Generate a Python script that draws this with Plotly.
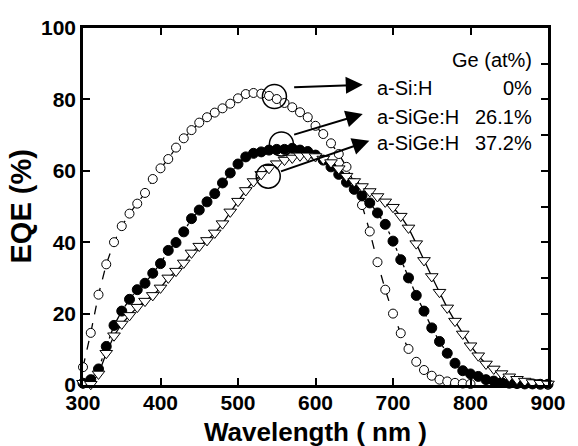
import plotly.graph_objects as go

# ---------------- data ----------------
wl_si = list(range(300, 801, 10))
eqe_si = [5, 14.6, 25.3, 33.8, 40, 44.5, 48, 50.8, 53.8, 57.7,
          60.7, 63.3, 66.5, 69.1, 71.4, 73.5, 75, 76.3, 77.5, 78.8,
          80.3, 81.5, 81.8, 81.6, 81, 80.1, 79, 77.8, 76.4, 75,
          72.6, 70.3, 67.7, 64.7, 61.1, 56.5, 50.4, 43, 34.4, 26.7,
          20, 14.5, 10.1, 6.5, 4.2, 2.6, 1.5, 1.0, 0.6, 0.4, 0.3]

wl_ge26 = list(range(300, 901, 10))
eqe_ge26 = [0.5, 1.5, 4.5, 10.8, 16.7, 20.7, 24, 26.7, 28.5, 31.3,
            34, 37.7, 39.9, 42.9, 46.6, 49, 51.3, 53.6, 56.6, 59.4,
            61.9, 63.9, 64.9, 65.3, 65.8, 66, 66, 66.3, 65.8, 65.4,
            64.4, 63, 61.1, 59, 56.8, 54.8, 53, 51, 48.2, 45,
            40.3, 35.1, 30, 25.1, 20.7, 16, 12.2, 8.9, 6.1, 4,
            3.1, 2.4, 1.5, 1.1, 0.7, 0.5, 0.4, 0.3, 0.3, 0.2, 0.2]

wl_ge37 = list(range(300, 901, 10))
eqe_ge37 = [0.5, 0.2, 3.1, 8.9, 13.8, 17.1, 19.5, 21.8, 23.5, 25.1,
            27.2, 30, 31.9, 34.2, 37, 38.9, 40.5, 42.6, 45.2, 48.5,
            51.5, 54.5, 57, 59, 60.7, 62, 63, 63.6, 64.2, 64.2,
            64, 63.3, 62.3, 60.6, 58.5, 57, 55.6, 54.2, 52.8, 51.3,
            49.8, 47.3, 44, 39.6, 34.9, 30.4, 26, 21.6, 17.9, 14.3,
            11, 8.2, 5.9, 4.5, 3.2, 2.3, 1.6, 1.1, 0.7, 0.5, 0.3]

# highlighted points (big circles) and arrow tails / heads
hl_wl = [547, 556, 539]
hl_eqe = [80.8, 67.5, 58.5]
arrow_tail_wl = [570.5, 570.5, 553.5]
arrow_tail_eqe = [83.4, 70.0, 59.7]
arrow_head_wl = [661, 661, 669.5]
arrow_head_eqe = [84.1, 75.9, 68.4]

labels = ["a-Si:H", "a-SiGe:H", "a-SiGe:H"]
ge_pct = ["0%", "26.1%", "37.2%"]
label_eqe = [83.2, 75.2, 67.7]
header = "Ge (at%)"
header_eqe = 91.1
label_wl = 677
pct_wl = 882

x_ticks = [300, 400, 500, 600, 700, 800, 900]
y_ticks = [0, 20, 40, 60, 80, 100]

FONT = "Liberation Sans, Arial, sans-serif"

fig = go.Figure()

fig.add_trace(go.Scatter(
    x=wl_si, y=eqe_si, mode="lines+markers",
    line=dict(color="black", width=1.3, dash="dash"),
    marker=dict(symbol="circle", size=9, color="white",
                line=dict(color="black", width=1)),
    cliponaxis=False, showlegend=False))

fig.add_trace(go.Scatter(
    x=wl_ge26, y=eqe_ge26, mode="lines+markers",
    line=dict(color="black", width=1.3, dash="dashdot"),
    marker=dict(symbol="circle", size=10, color="black",
                line=dict(color="black", width=1)),
    cliponaxis=False, showlegend=False))

fig.add_trace(go.Scatter(
    x=wl_ge37, y=eqe_ge37, mode="lines+markers",
    line=dict(color="black", width=1.3),
    marker=dict(symbol="triangle-down", size=11, color="white",
                line=dict(color="black", width=1)),
    cliponaxis=False, showlegend=False))

fig.add_trace(go.Scatter(
    x=hl_wl, y=hl_eqe, mode="markers",
    marker=dict(symbol="circle-open", size=24, color="black",
                line=dict(color="black", width=1.5)),
    cliponaxis=False, showlegend=False))

# right-axis ticks every 10
fig.add_trace(go.Scatter(x=[None], y=[None], yaxis="y2", showlegend=False))

annotations = []
for hx, hy, tx, ty in zip(arrow_head_wl, arrow_head_eqe, arrow_tail_wl, arrow_tail_eqe):
    annotations.append(dict(
        x=hx, y=hy, ax=tx, ay=ty, xref="x", yref="y", axref="x", ayref="y",
        text="", showarrow=True, arrowhead=2, arrowsize=1.7, arrowwidth=2,
        arrowcolor="black"))

lab_font = dict(family=FONT, size=20, color="black")
for lab, pct, ly in zip(labels, ge_pct, label_eqe):
    annotations.append(dict(x=label_wl, y=ly, xref="x", yref="y", text=lab,
                            showarrow=False, xanchor="left", yanchor="middle",
                            font=lab_font))
    annotations.append(dict(x=pct_wl, y=ly, xref="x", yref="y", text=pct,
                            showarrow=False, xanchor="right", yanchor="middle",
                            font=lab_font))
annotations.append(dict(x=pct_wl, y=header_eqe, xref="x", yref="y", text=header,
                        showarrow=False, xanchor="right", yanchor="middle",
                        font=lab_font))

annotations.append(dict(x=0.5, y=0, xref="paper", yref="paper",
                        text="Wavelength ( nm )", showarrow=False,
                        xanchor="center", yanchor="middle", yshift=-47,
                        font=dict(family=FONT, size=26, color="black", weight="bold")))
annotations.append(dict(x=0, y=0.5, xref="paper", yref="paper",
                        text="EQE (%)", showarrow=False, textangle=-90,
                        xanchor="center", yanchor="middle", xshift=-63,
                        font=dict(family=FONT, size=29, color="black", weight="bold")))

tickfont = dict(family=FONT, size=21, color="black", weight="bold")

fig.update_layout(
    width=578, height=446,
    margin=dict(l=83, r=21, t=28, b=61),
    plot_bgcolor="white", paper_bgcolor="white",
    annotations=annotations,
    xaxis=dict(range=[300, 900], tickvals=x_ticks, ticks="inside", ticklen=7,
               tickwidth=2, tickcolor="black", showline=True, linewidth=2.5,
               linecolor="black", mirror="ticks", showgrid=False, zeroline=False,
               tickfont=tickfont, ticklabelstandoff=-3),
    yaxis=dict(range=[0, 100], tickvals=y_ticks, ticks="inside", ticklen=7,
               tickwidth=2, tickcolor="black", showline=True, linewidth=2.5,
               linecolor="black", mirror=True, showgrid=False, zeroline=False,
               tickfont=tickfont),
    yaxis2=dict(range=[0, 100], dtick=10, overlaying="y", side="right",
                ticks="inside", ticklen=7, tickwidth=2, tickcolor="black",
                showticklabels=False, showline=False, showgrid=False,
                zeroline=False),
)

fig.write_html("out.html")
